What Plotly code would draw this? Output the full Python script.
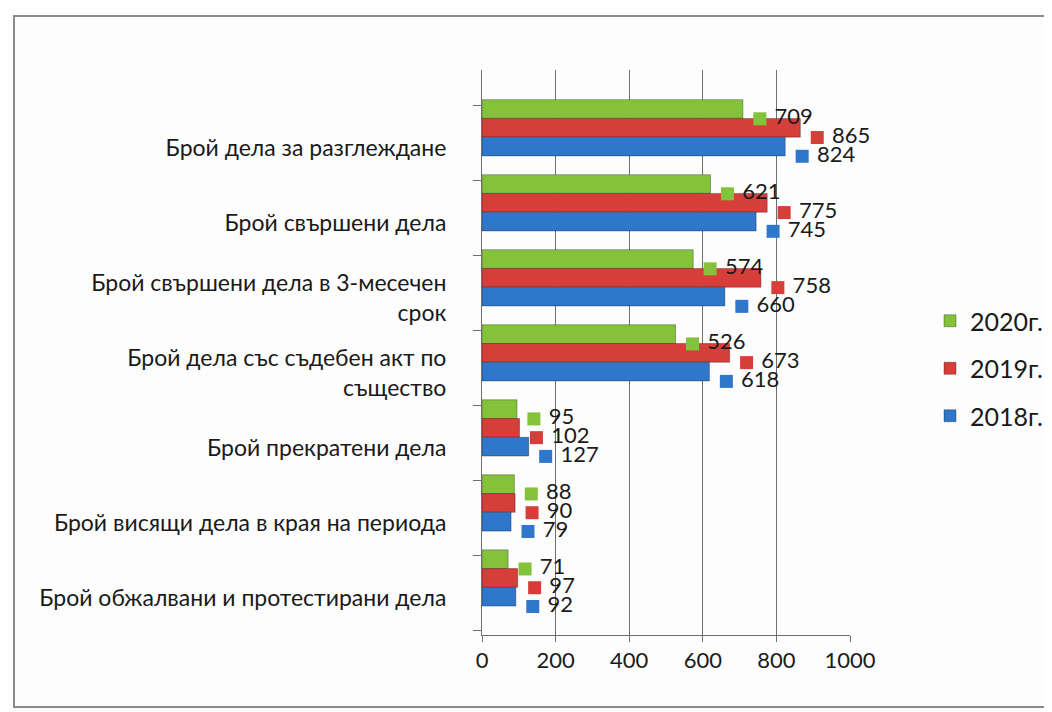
import plotly.graph_objects as go

categories = [
    "Брой дела за разглеждане",
    "Брой свършени дела",
    "Брой свършени дела в 3-месечен<br>срок",
    "Брой дела със съдебен акт по<br>същество",
    "Брой прекратени дела",
    "Брой висящи дела в края на периода",
    "Брой обжалвани и протестирани дела",
]
series_names = ["2020г.", "2019г.", "2018г."]
values_2020 = [709, 621, 574, 526, 95, 88, 71]
values_2019 = [865, 775, 758, 673, 102, 90, 97]
values_2018 = [824, 745, 660, 618, 127, 79, 92]
x_ticks = [0, 200, 400, 600, 800, 1000]

series_values = [values_2020, values_2019, values_2018]
colors = ["#84C23C", "#D63E3A", "#2E77CB"]
offsets = [-0.25, 0.0, 0.25]

# page has an 8px body margin; work in screen pixels and shift
OFF = 8
W, H = 1052 - OFF, 712 - OFF
sL, sR, sT, sB = 482, 850, 70, 635  # plot area in screen pixels
L, R, T, B = sL - OFF, W - (sR - OFF), sT - OFF, H - (sB - OFF)
plot_w = W - L - R
plot_h = H - T - B
FONT = "Lato, Open Sans, sans-serif"

fig = go.Figure()
idx = list(range(len(categories)))
for name, vals, col, off in zip(series_names, series_values, colors, offsets):
    fig.add_trace(go.Bar(
        x=vals, y=[i + off for i in idx], orientation="h", width=0.25,
        marker=dict(color=col, line=dict(color="rgba(0,0,0,0.3)", width=1)),
        name=name, legendgroup=name,
    ))
for name, vals, col, off in zip(series_names, series_values, colors, offsets):
    fig.add_trace(go.Scatter(
        x=[v + 46 for v in vals], y=[i + off + 0.13 for i in idx],
        mode="markers+text", text=["\u00a0" + str(v) for v in vals],
        textposition="middle right",
        textfont=dict(size=22, color="#1a1a1a", family=FONT),
        marker=dict(symbol="square", size=13, color=col),
        showlegend=False, legendgroup=name, cliponaxis=False,
    ))

def px_x(p):
    return (p - OFF - L) / plot_w

def px_y(p):
    return (H - (p - OFF) - B) / plot_h

fig.add_shape(type="rect", xref="paper", yref="paper",
              x0=px_x(14), x1=px_x(1080), y0=px_y(16), y1=px_y(707),
              line=dict(color="#8a8a8a", width=2), layer="below")

fig.update_layout(
    width=W, height=H,
    margin=dict(l=L, r=R, t=T, b=B),
    paper_bgcolor="#fdfdfd", plot_bgcolor="rgba(0,0,0,0)",
    barmode="overlay",
    font=dict(family=FONT, size=20, color="#1a1a1a"),
    legend=dict(xref="container", yref="container",
                x=(930 - OFF) / W, y=1 - (298 - OFF) / H,
                xanchor="left", yanchor="top", tracegroupgap=12,
                font=dict(size=25, color="#1a1a1a", family=FONT),
                bgcolor="rgba(0,0,0,0)"),
    xaxis=dict(range=[0, 1000], tickvals=x_ticks, showgrid=True,
               gridcolor="#6f6f6f", gridwidth=1, zeroline=False,
               showline=True, linecolor="#6f6f6f", ticks="outside",
               tickcolor="#6f6f6f", ticklen=6,
               tickfont=dict(size=22, color="#1a1a1a", family=FONT)),
    yaxis=dict(range=[6.76, -0.77], tickvals=[i + 0.27 for i in idx],
               ticktext=categories, showgrid=False, zeroline=False,
               showline=True, linecolor="#6f6f6f", ticks="",
               ticklabelstandoff=30,
               minor=dict(tickvals=[i - 0.3 for i in range(len(categories) + 1)],
                          ticks="outside", ticklen=8, tickcolor="#6f6f6f",
                          showgrid=False),
               tickfont=dict(size=23, color="#1a1a1a", family=FONT)),
)

fig.write_html("out.html")
